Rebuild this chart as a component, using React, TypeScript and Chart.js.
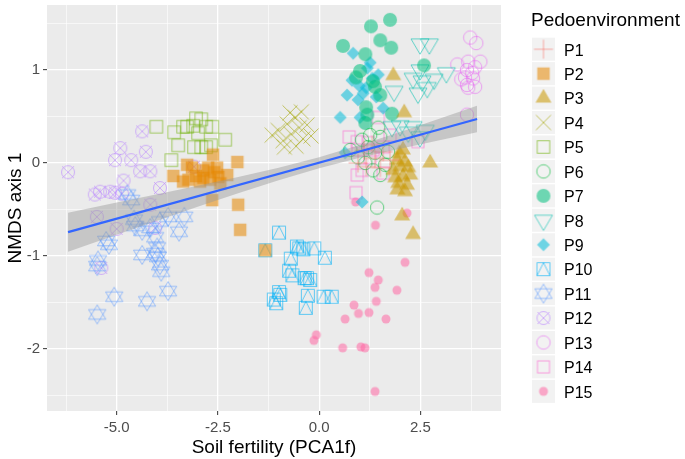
import { useEffect, useRef } from 'react';
import { Chart, registerables } from 'chart.js';

Chart.register(...registerables);

// ---------- data ----------
const groupNames = ['P1', 'P2', 'P3', 'P4', 'P5', 'P6', 'P7', 'P8', 'P9', 'P10', 'P11', 'P12', 'P13', 'P14', 'P15'];
const groupColors = ['#F8766D', '#E58700', '#C99800', '#A3A500', '#6BB100', '#00BA38', '#00BF7D', '#00C0AF', '#00BCD8', '#00B0F6', '#619CFF', '#B983FF', '#E76BF3', '#FD61D1', '#FF67A4'];
const groupShapes = ['plus', 'square', 'triangle', 'x', 'squareOpen', 'circleOpen', 'circle', 'triDown', 'diamond', 'squareTri', 'star', 'circleX', 'circleOpen', 'squareOpenSmall', 'dot'];

const P1: [number, number][] = [[0.96, 0.0], [1.38, 0.05], [1.16, -0.04], [1.58, 0.12], [1.75, 0.03], [1.31, 0.19], [1.51, -0.05], [1.11, 0.14]];
const P2: [number, number][] = [[-2.62, 0.09], [-2.02, 0.01], [-3.26, -0.02], [-3.14, -0.05], [-3.6, -0.14], [-3.36, -0.2], [-3.23, -0.18], [-2.86, -0.08], [-2.74, -0.05], [-2.52, -0.05], [-2.86, -0.16], [-2.69, -0.18], [-2.49, -0.15], [-2.27, -0.13], [-2.94, -0.2], [-2.44, -0.22], [-2.64, -0.4], [-2.0, -0.45], [-1.95, -0.72], [-1.33, -0.94], [-3.04, -0.14], [-2.59, -0.1]];
const P3: [number, number][] = [[1.83, 0.94], [2.1, 0.54], [2.07, 0.14], [2.74, 0.0], [1.93, 0.03], [2.12, 0.01], [2.0, -0.04], [1.83, -0.08], [2.2, -0.05], [1.88, -0.16], [2.07, -0.15], [1.95, -0.22], [2.17, -0.24], [1.93, -0.29], [2.12, -0.31], [2.25, -0.13], [2.05, -0.57], [2.32, -0.77], [1.98, 0.1]];
const P4: [number, number][] = [[-1.16, 0.3], [-1.01, 0.35], [-0.89, 0.24], [-0.79, 0.42], [-0.69, 0.31], [-0.59, 0.49], [-0.49, 0.38], [-0.4, 0.26], [-0.3, 0.41], [-0.57, 0.18], [-0.86, 0.17], [-0.2, 0.29], [-0.72, 0.54], [-0.44, 0.55]];
const P5: [number, number][] = [[-4.02, 0.39], [-3.58, 0.33], [-3.36, 0.39], [-3.11, 0.4], [-2.91, 0.47], [-2.79, 0.39], [-2.64, 0.39], [-2.99, 0.32], [-2.32, 0.25], [-3.48, 0.19], [-3.09, 0.17], [-2.91, 0.17], [-2.79, 0.17], [-2.67, 0.19], [-3.65, 0.03], [-3.26, 0.39], [-3.04, 0.48]];
const P6: [number, number][] = [[1.26, 0.3], [1.46, 0.38], [1.51, 0.28], [1.21, 0.17], [1.7, 0.12], [0.77, 0.14], [0.96, 0.06], [1.38, 0.11], [1.33, -0.08], [1.51, -0.13], [1.43, -0.48], [1.14, 0.0], [1.63, -0.02], [1.06, 0.25]];
const P7: [number, number][] = [[1.28, 1.47], [1.75, 1.54], [1.51, 1.32], [1.78, 1.24], [0.59, 1.26], [1.14, 1.17], [2.59, 1.05], [1.01, 0.99], [0.91, 0.92], [1.33, 0.88], [1.51, 0.73], [1.38, 0.82], [1.16, 0.6], [1.14, 0.43], [1.8, 0.53], [1.19, 0.52]];
const P8: [number, number][] = [[2.49, 1.28], [2.72, 1.28], [2.32, 0.91], [2.54, 0.88], [2.84, 0.9], [3.14, 0.97], [2.49, 1.0], [2.67, 0.81], [2.44, 0.75], [1.85, 0.77], [2.0, 0.4], [2.32, 0.39], [2.2, 0.33], [2.49, 0.28], [1.8, 0.39], [2.62, 0.35]];
const P9: [number, number][] = [[0.84, 1.18], [1.26, 1.08], [1.19, 1.02], [1.46, 0.95], [0.81, 0.89], [1.31, 0.91], [0.69, 0.73], [0.96, 0.68], [1.09, 0.75], [1.41, 0.71], [0.52, 0.49], [1.01, 0.49], [1.58, 0.59], [0.64, 0.11], [1.06, -0.42], [0.99, 0.83], [1.16, 0.81]];
const P10: [number, number][] = [[-1.33, -0.94], [-0.99, -0.75], [-0.55, -0.9], [-0.49, -0.92], [-0.39, -0.93], [-0.12, -0.92], [-0.7, -1.03], [0.14, -1.02], [-0.74, -1.16], [-0.66, -1.21], [-0.36, -1.24], [-0.3, -1.24], [-0.22, -1.26], [-0.99, -1.39], [-0.96, -1.42], [-1.06, -1.51], [-0.28, -1.43], [0.11, -1.44], [0.31, -1.44], [-0.33, -1.56], [-1.12, -1.47]];
const P11: [number, number][] = [[-4.74, -0.34], [-4.64, -0.4], [-5.26, -0.84], [-5.19, -0.88], [-5.46, -1.05], [-5.48, -1.11], [-4.57, -0.61], [-4.54, -0.68], [-4.37, -0.73], [-4.37, -0.99], [-4.05, -0.8], [-4.0, -0.91], [-3.98, -1.01], [-3.93, -1.1], [-3.9, -1.17], [-4.05, -0.97], [-3.73, -0.58], [-3.33, -0.58], [-3.46, -0.74], [-5.06, -1.44], [-4.25, -1.49], [-3.73, -1.38], [-5.48, -1.63], [-3.93, -0.63], [-4.17, -0.7]];
const P12: [number, number][] = [[-4.37, 0.34], [-4.91, 0.16], [-4.28, 0.12], [-5.04, 0.03], [-4.64, 0.03], [-6.2, -0.1], [-4.42, -0.09], [-4.17, -0.09], [-4.83, -0.19], [-3.93, -0.27], [-5.41, -0.31], [-5.16, -0.31], [-5.04, -0.32], [-4.87, -0.33], [-4.17, -0.45], [-5.49, -0.58], [-5.0, -0.71], [-4.05, -0.7], [-5.38, -1.13], [-3.09, -0.04], [-5.54, -0.34]];
const P13: [number, number][] = [[3.73, 1.35], [3.88, 1.29], [3.41, 1.06], [3.68, 1.09], [3.98, 1.09], [3.85, 1.03], [3.65, 1.0], [3.78, 0.97], [3.6, 0.92], [3.8, 0.91], [3.65, 0.84], [3.85, 0.82], [3.68, 0.81], [3.65, 0.52], [3.51, 0.9]];
const P14: [number, number][] = [[0.74, 0.28], [0.94, 0.23], [1.21, 0.22], [1.46, 0.49], [2.44, 0.23], [1.58, 0.17], [0.96, 0.14], [1.33, 0.14], [0.94, -0.13], [1.58, -0.11], [0.91, -0.32], [1.26, 0.06], [1.06, -0.08], [1.75, 0.3]];
const P15: [number, number][] = [[2.17, -0.54], [1.39, -0.67], [2.12, -1.07], [1.23, -1.18], [1.46, -1.26], [1.38, -1.34], [1.92, -1.37], [1.41, -1.49], [0.86, -1.53], [0.97, -1.62], [1.23, -1.61], [0.64, -1.68], [1.65, -1.68], [-0.07, -1.85], [-0.13, -1.91], [0.58, -1.99], [1.03, -1.98], [1.13, -1.99], [1.38, -2.46], [0.9, -0.42]];
const groupData = [P1, P2, P3, P4, P5, P6, P7, P8, P9, P10, P11, P12, P13, P14, P15];

// linear fit and its confidence band
const fitX = [-6.2, 3.9];
const fitY = [-0.745, 0.473];
const bandX = [-6.2, -5, -4, -3, -2, -1, 0, 1, 2, 3, 3.9];
const bandUpper = [-0.535, -0.427, -0.337, -0.246, -0.151, -0.051, 0.062, 0.193, 0.334, 0.482, 0.616];
const bandLower = [-0.955, -0.773, -0.621, -0.472, -0.325, -0.185, -0.056, 0.055, 0.154, 0.248, 0.33];

const xTickValues = [-6.25, -5, -3.75, -2.5, -1.25, 0, 1.25, 2.5, 3.75];
const xMajorValues = [-5, -2.5, 0, 2.5];
const xMajorLabels = ['-5.0', '-2.5', '0.0', '2.5'];
const yTickValues = [-2.5, -2, -1.5, -1, -0.5, 0, 0.5, 1, 1.5];
const yMajorValues = [-2, -1, 0, 1];
const yMajorLabels = ['-2', '-1', '0', '1'];

const FONT = "'Liberation Sans', Arial, Helvetica, sans-serif";

function rgba(hex: string, a: number) {
  const n = parseInt(hex.slice(1), 16);
  return `rgba(${(n >> 16) & 255},${(n >> 8) & 255},${n & 255},${a})`;
}

function makeSprite(kind: string, color: string): HTMLCanvasElement {
  const S = 24;
  const c = document.createElement('canvas');
  c.width = S;
  c.height = S;
  const g = c.getContext('2d')!;
  g.translate(S / 2, S / 2);
  g.fillStyle = rgba(color, 0.55);
  g.strokeStyle = rgba(color, 0.6);
  g.lineWidth = 1;
  const line = (pts: number[][], close = false) => {
    g.beginPath();
    pts.forEach((p, i) => (i === 0 ? g.moveTo(p[0], p[1]) : g.lineTo(p[0], p[1])));
    if (close) g.closePath();
  };
  switch (kind) {
    case 'plus':
      g.beginPath();
      g.moveTo(-9.5, 0); g.lineTo(9.5, 0);
      g.moveTo(0, -9.5); g.lineTo(0, 9.5);
      g.stroke();
      break;
    case 'square':
      g.fillRect(-6.25, -6.25, 12.5, 12.5);
      break;
    case 'triangle':
      line([[0, -9.2], [8, 4.6], [-8, 4.6]], true);
      g.fill();
      break;
    case 'x':
      g.beginPath();
      g.moveTo(-7.5, -7.5); g.lineTo(7.5, 7.5);
      g.moveTo(-7.5, 7.5); g.lineTo(7.5, -7.5);
      g.stroke();
      break;
    case 'squareOpen':
      g.strokeRect(-6.25, -6.25, 12.5, 12.5);
      break;
    case 'squareOpenSmall':
      g.strokeRect(-6, -6, 12, 12);
      break;
    case 'circleOpen':
      g.beginPath(); g.arc(0, 0, 6.7, 0, Math.PI * 2); g.stroke();
      break;
    case 'circle':
      g.beginPath(); g.arc(0, 0, 7, 0, Math.PI * 2); g.fill();
      break;
    case 'triDown':
      line([[0, 10.2], [9, -5.1], [-9, -5.1]], true);
      g.stroke();
      break;
    case 'diamond':
      line([[0, -6.5], [6.5, 0], [0, 6.5], [-6.5, 0]], true);
      g.fill();
      break;
    case 'squareTri':
      g.beginPath();
      g.rect(-6.5, -6.5, 13, 13);
      g.moveTo(-6.5, 6.5); g.lineTo(0, -6.5); g.lineTo(6.5, 6.5);
      g.stroke();
      break;
    case 'star':
      g.beginPath();
      g.moveTo(0, -9.5); g.lineTo(8.6, 4.8); g.lineTo(-8.6, 4.8); g.closePath();
      g.moveTo(0, 9.5); g.lineTo(8.6, -4.8); g.lineTo(-8.6, -4.8); g.closePath();
      g.stroke();
      break;
    case 'circleX':
      g.beginPath();
      g.arc(0, 0, 6.5, 0, Math.PI * 2);
      g.moveTo(-6, -6); g.lineTo(6, 6);
      g.moveTo(-6, 6); g.lineTo(6, -6);
      g.stroke();
      break;
    case 'dot':
      g.beginPath(); g.arc(0, 0, 4.5, 0, Math.PI * 2); g.fill();
      break;
  }
  return c;
}

const isIn = (arr: number[], v: number) => arr.some((m) => Math.abs(m - v) < 1e-9);

export default function App() {
  const ref = useRef<HTMLCanvasElement | null>(null);

  useEffect(() => {
    if (!ref.current) return;
    const sprites = groupNames.map((_, i) => makeSprite(groupShapes[i], groupColors[i]));

    const panelBg = {
      id: 'panelBg',
      beforeDraw(chart: any) {
        const { ctx, chartArea: a } = chart;
        ctx.save();
        ctx.fillStyle = '#EBEBEB';
        ctx.fillRect(a.left, a.top, a.right - a.left, a.bottom - a.top);
        ctx.restore();
      },
    };

    const legendPlugin = {
      id: 'ggLegend',
      afterDraw(chart: any) {
        const ctx = chart.ctx as CanvasRenderingContext2D;
        ctx.save();
        ctx.fillStyle = '#000000';
        ctx.textAlign = 'left';
        ctx.textBaseline = 'alphabetic';
        ctx.font = `19px ${FONT}`;
        ctx.fillText('Pedoenvironment', 531, 26);
        ctx.font = `16px ${FONT}`;
        groupNames.forEach((name, i) => {
          const cy = 49.2 + i * 24.44;
          ctx.fillStyle = '#F2F2F2';
          ctx.fillRect(532, cy - 11.5, 23, 23);
          ctx.drawImage(sprites[i], 543.5 - 12, cy - 12);
          ctx.fillStyle = '#000000';
          ctx.fillText(name, 564, cy + 6.3);
        });
        ctx.restore();
      },
    };

    const pointSets = groupNames.map((name, i) => ({
      type: 'scatter' as const,
      label: name,
      data: groupData[i].map(([x, y]) => ({ x, y })),
      pointStyle: sprites[i],
      pointRadius: 3,
      pointHoverRadius: 3,
      showLine: false,
    }));

    const chart = new Chart(ref.current, {
      type: 'scatter',
      data: {
        datasets: [
          {
            type: 'line',
            label: 'fit',
            data: fitX.map((x, i) => ({ x, y: fitY[i] })),
            borderColor: '#3366FF',
            borderWidth: 2.2,
            pointRadius: 0,
            fill: false,
          } as any,
          {
            type: 'line',
            label: 'bandUpper',
            data: bandX.map((x, i) => ({ x, y: bandUpper[i] })),
            borderWidth: 0,
            borderColor: 'rgba(0,0,0,0)',
            backgroundColor: 'rgba(153,153,153,0.45)',
            pointRadius: 0,
            fill: '+1',
          } as any,
          {
            type: 'line',
            label: 'bandLower',
            data: bandX.map((x, i) => ({ x, y: bandLower[i] })),
            borderWidth: 0,
            borderColor: 'rgba(0,0,0,0)',
            pointRadius: 0,
            fill: false,
          } as any,
          ...pointSets,
        ],
      },
      options: {
        responsive: false,
        animation: false,
        events: [],
        layout: { padding: { left: 0, top: 5, right: 184, bottom: 0 } },
        plugins: {
          legend: { display: false },
          tooltip: { enabled: false },
        },
        scales: {
          x: {
            type: 'linear',
            min: -6.72,
            max: 4.49,
            afterBuildTicks: (s: any) => {
              s.ticks = xTickValues.map((v) => ({ value: v }));
            },
            afterFit: (s: any) => {
              s.height = 48;
              s.paddingLeft = 0;
              s.paddingRight = 0;
            },
            border: { display: false },
            grid: {
              color: '#FFFFFF',
              lineWidth: (c: any) => (isIn(xMajorValues, c.tick?.value) ? 1.3 : 0.6),
              tickColor: (c: any) => (isIn(xMajorValues, c.tick?.value) ? '#333333' : 'rgba(0,0,0,0)'),
              tickLength: 4,
              tickWidth: 1,
            },
            ticks: {
              autoSkip: false,
              maxRotation: 0,
              padding: 4,
              color: '#4D4D4D',
              font: { size: 15, family: FONT },
              callback: (v: any) => {
                const k = xMajorValues.findIndex((m) => Math.abs(m - Number(v)) < 1e-9);
                return k >= 0 ? xMajorLabels[k] : '';
              },
            },
            title: {
              display: true,
              text: 'Soil fertility (PCA1f)',
              color: '#000000',
              font: { size: 19, family: FONT },
              padding: { top: 0, bottom: 0 },
            },
          },
          y: {
            type: 'linear',
            min: -2.67,
            max: 1.7,
            afterBuildTicks: (s: any) => {
              s.ticks = yTickValues.map((v) => ({ value: v }));
            },
            afterFit: (s: any) => {
              s.width = 47;
              s.paddingTop = 0;
              s.paddingBottom = 0;
            },
            border: { display: false },
            grid: {
              color: '#FFFFFF',
              lineWidth: (c: any) => (isIn(yMajorValues, c.tick?.value) ? 1.3 : 0.6),
              tickColor: (c: any) => (isIn(yMajorValues, c.tick?.value) ? '#333333' : 'rgba(0,0,0,0)'),
              tickLength: 4,
              tickWidth: 1,
            },
            ticks: {
              autoSkip: false,
              padding: 3,
              color: '#4D4D4D',
              font: { size: 15, family: FONT },
              callback: (v: any) => {
                const k = yMajorValues.findIndex((m) => Math.abs(m - Number(v)) < 1e-9);
                return k >= 0 ? yMajorLabels[k] : '';
              },
            },
            title: {
              display: true,
              text: 'NMDS axis 1',
              color: '#000000',
              font: { size: 19, family: FONT },
              padding: { top: 4, bottom: 0 },
            },
          },
        },
      },
      plugins: [panelBg, legendPlugin],
    } as any);

    return () => chart.destroy();
  }, []);

  return (
    <div style={{ position: 'fixed', left: 0, top: 0, width: 685, height: 459, background: '#FFFFFF' }}>
      <canvas ref={ref} width={685} height={459} style={{ display: 'block', width: 685, height: 459 }} />
    </div>
  );
}
